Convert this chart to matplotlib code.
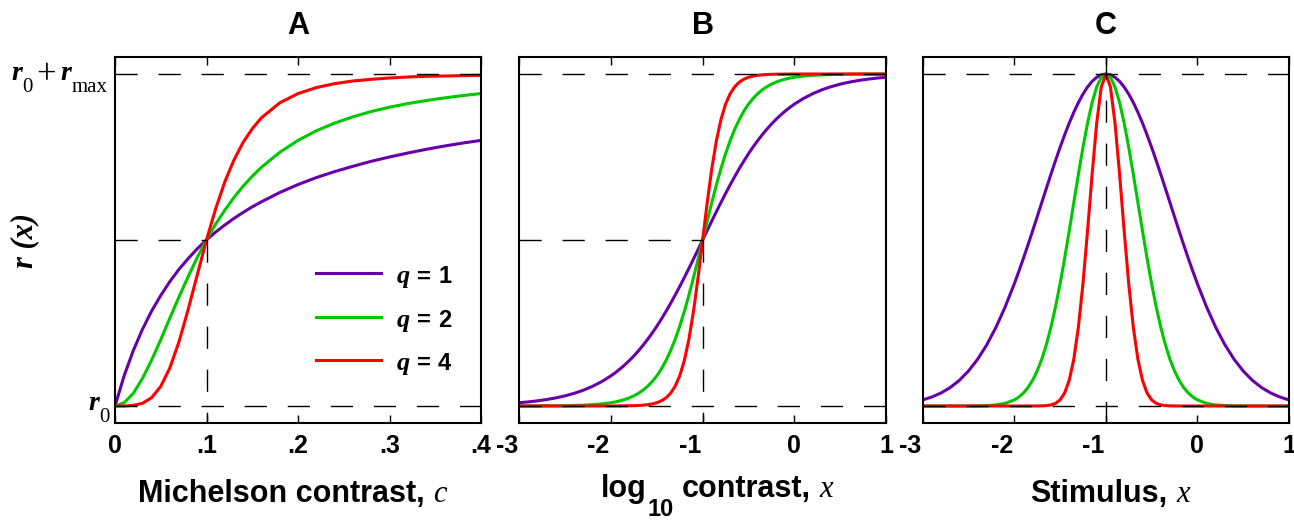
import matplotlib
matplotlib.use("Agg")
import matplotlib.pyplot as plt
from matplotlib import transforms
from matplotlib.lines import Line2D

plt.rcParams['lines.scale_dashes'] = False
plt.rcParams['font.family'] = ['Liberation Sans', 'DejaVu Sans']

W, H = 1294, 521
SANS = ['Liberation Sans', 'DejaVu Sans']
SERIF = ['Liberation Serif', 'DejaVu Serif']

# ---------------- data ----------------
panel_titles = ['A', 'B', 'C']
q_values = [1, 2, 4]
q_colors = ['#6600aa', '#00c800', '#ff0000']

# Panel A: Michelson contrast
contrast_c = [0, .01, .02, .03, .04, .05, .06, .07, .08, .09, .10, .11, .12, .13,
              .14, .15, .16, .18, .20, .22, .24, .26, .28, .30, .32, .34, .36, .38, .40]
resp_A_q1 = [0, .091, .167, .231, .286, .333, .375, .412, .444, .474, .5, .524, .545, .565,
             .583, .6, .615, .643, .667, .688, .706, .722, .737, .75, .762, .773, .783, .792, .8]
resp_A_q2 = [0, .010, .038, .083, .138, .2, .265, .329, .390, .448, .5, .548, .590, .628,
             .662, .692, .719, .764, .8, .829, .852, .871, .887, .9, .911, .920, .928, .935, .941]
resp_A_q4 = [0, .000, .002, .008, .025, .059, .115, .194, .291, .396, .5, .594, .675, .741,
             .794, .835, .868, .913, .941, .959, .971, .979, .984, .988, .991, .993, .994, .995, .996]

# Panels B and C share the sample positions
stim_x = [-3.0, -2.9, -2.8, -2.7, -2.6, -2.5, -2.4, -2.3, -2.2, -2.1,
          -2.0, -1.95, -1.9, -1.85, -1.8, -1.75, -1.7, -1.65, -1.6, -1.55,
          -1.5, -1.45, -1.4, -1.35, -1.3, -1.25, -1.2, -1.15, -1.1, -1.05,
          -1.0,
          -0.95, -0.9, -0.85, -0.8, -0.75, -0.7, -0.65, -0.6, -0.55, -0.5,
          -0.45, -0.4, -0.35, -0.3, -0.25, -0.2, -0.15, -0.1, -0.05, 0.0,
          0.1, 0.2, 0.3, 0.4, 0.5, 0.6, 0.7, 0.8, 0.9, 1.0]
resp_B_q1 = [.0099, .0124, .0156, .0196, .0245, .0306, .0383, .0477, .0594, .0736,
             .0909, .1009, .1118, .1238, .1368, .1510, .1663, .1829, .2008, .2198,
             .2402, .2619, .2847, .3088, .3339, .3599, .3869, .4145, .4427, .4713,
             .5,
             .5287, .5573, .5855, .6131, .6401, .6661, .6912, .7153, .7381, .7598,
             .7802, .7992, .8171, .8337, .8490, .8632, .8762, .8882, .8991, .9091,
             .9264, .9406, .9523, .9617, .9694, .9755, .9804, .9844, .9876, .9901]
resp_B_q2 = [.0001, .0002, .0003, .0004, .0006, .0010, .0016, .0025, .0040, .0063,
             .0099, .0124, .0156, .0196, .0245, .0306, .0383, .0477, .0594, .0736,
             .0909, .1118, .1368, .1663, .2008, .2402, .2847, .3339, .3869, .4427,
             .5,
             .5573, .6131, .6661, .7153, .7598, .7992, .8337, .8632, .8882, .9091,
             .9264, .9406, .9523, .9617, .9694, .9755, .9804, .9844, .9876, .9901,
             .9937, .9960, .9975, .9984, .9990, .9994, .9996, .9997, .9998, .9999]
resp_B_q4 = [0, 0, 0, 0, 0, 0, 0, 0, 0, 0,
             .0001, .0002, .0003, .0004, .0006, .0010, .0016, .0025, .0040, .0063,
             .0099, .0156, .0245, .0383, .0594, .0909, .1368, .2008, .2847, .3869,
             .5,
             .6131, .7153, .7992, .8632, .9091, .9406, .9617, .9755, .9844, .9901,
             .9937, .9960, .9975, .9984, .9990, .9994, .9996, .9997, .9998, .9999,
             1, 1, 1, 1, 1, 1, 1, 1, 1, 1]
resp_C_q1 = [.0183, .0271, .0392, .0556, .0773, .1054, .1409, .1845, .2369, .2982,
             .3679, .4056, .4449, .4855, .5273, .5698, .6126, .6554, .6977, .7390,
             .7788, .8167, .8521, .8847, .9139, .9394, .9608, .9778, .9900, .9975,
             1.0,
             .9975, .9900, .9778, .9608, .9394, .9139, .8847, .8521, .8167, .7788,
             .7390, .6977, .6554, .6126, .5698, .5273, .4855, .4449, .4056, .3679,
             .2982, .2369, .1845, .1409, .1054, .0773, .0556, .0392, .0271, .0183]
resp_C_q2 = [0, 0, 0, 0, 0, .0001, .0004, .0012, .0032, .0079,
             .0183, .0271, .0392, .0556, .0773, .1054, .1409, .1845, .2369, .2982,
             .3679, .4449, .5273, .6126, .6977, .7788, .8521, .9139, .9608, .9900,
             1.0,
             .9900, .9608, .9139, .8521, .7788, .6977, .6126, .5273, .4449, .3679,
             .2982, .2369, .1845, .1409, .1054, .0773, .0556, .0392, .0271, .0183,
             .0079, .0032, .0012, .0004, .0001, 0, 0, 0, 0, 0]
resp_C_q4 = [0, 0, 0, 0, 0, 0, 0, 0, 0, 0,
             0, 0, 0, 0, 0, .0001, .0004, .0012, .0032, .0079,
             .0183, .0392, .0773, .1409, .2369, .3679, .5273, .6977, .8521, .9608,
             1.0,
             .9608, .8521, .6977, .5273, .3679, .2369, .1409, .0773, .0392, .0183,
             .0079, .0032, .0012, .0004, .0001, 0, 0, 0, 0, 0,
             0, 0, 0, 0, 0, 0, 0, 0, 0, 0]

ticks_A = [0, .1, .2, .3, .4]
ticklabels_A = ['0', '.1', '.2', '.3', '.4']
ticks_BC = [-3, -2, -1, 0, 1]
ticklabels_BC = ['-3', '-2', '-1', '0', '1']
c50 = 0.1
x50 = -1.0
legend_labels = ['1', '2', '4']

# ---------------- figure ----------------
fig = plt.figure(figsize=(W / 100, H / 100), dpi=100)


def fx(x):
    return x / W


def fy(y):
    return 1 - y / H


def add_axes_px(l, r, t, b):
    return fig.add_axes([fx(l), fy(b), (r - l) / W, (b - t) / H])


axA = add_axes_px(115, 481, 57, 423)
axB = add_axes_px(519.3, 886, 57, 423)
axC = add_axes_px(922.7, 1289, 57, 423)
YLIM = (-0.0512, 1.0512)
DASH = dict(color='black', lw=1.0, ls=(0, (16, 15)), zorder=3, dash_capstyle='butt')

panels = [
    (axA, contrast_c, [resp_A_q1, resp_A_q2, resp_A_q4], (0, 0.4), ticks_A, ticklabels_A),
    (axB, stim_x, [resp_B_q1, resp_B_q2, resp_B_q4], (-3, 1), ticks_BC, ticklabels_BC),
    (axC, stim_x, [resp_C_q1, resp_C_q2, resp_C_q4], (-3, 1), ticks_BC, ticklabels_BC),
]

tick_font = dict(family=SANS, weight='bold', size=18)
for ax, xs, series, xlim, ticks, labels in panels:
    for ys, col in zip(series, q_colors):
        ax.plot(xs, ys, color=col, lw=2.2, zorder=2, solid_joinstyle='round')
    ax.set_xlim(*xlim)
    ax.set_ylim(*YLIM)
    for sp in ax.spines.values():
        sp.set_linewidth(1.5)
    ax.set_xticks(ticks)
    ax.set_yticks([])
    ax.tick_params(axis='x', direction='in', top=True, bottom=True, length=6, width=1.0,
                   labelbottom=False, labeltop=False)
    tr = transforms.blended_transform_factory(ax.transData, fig.transFigure)
    for v, lab in zip(ticks, labels):
        if lab.startswith('-'):
            off = transforms.ScaledTranslation(-1.5 / 100, 0, fig.dpi_scale_trans)
            ax.text(v, fy(453), lab, transform=tr + off, ha='right', va='baseline', **tick_font)
        else:
            ax.text(v, fy(453), lab, transform=tr, ha='center', va='baseline', **tick_font)
    ax.plot([xlim[0], xlim[1]], [1, 1], **DASH)
    ax.plot([xlim[0], xlim[1]], [0, 0], **DASH)

# half-maximum references
axA.plot([0, c50], [0.5, 0.5], **DASH)
axA.plot([c50, c50], [0.5, YLIM[0]], **DASH)
axB.plot([-3, x50], [0.5, 0.5], **DASH)
axB.plot([x50, x50], [0.5, YLIM[0]], **DASH)
axC.plot([x50, x50], [YLIM[1], YLIM[0]], **DASH)

# titles
for ax, t in zip([axA, axB, axC], panel_titles):
    bb = ax.get_position()
    fig.text(bb.x0 + bb.width / 2, fy(34), t, ha='center', va='baseline',
             family=SANS, weight='bold', size=22)

renderer = fig.canvas.get_renderer()


def rich_row(pieces, x, baseline, align='center'):
    objs = []
    total = 0
    for s, kw, dy, gap in pieces:
        t = fig.text(0, 0, s, ha='left', va='baseline', **kw)
        w = t.get_window_extent(renderer).width
        objs.append((t, dy, gap, w))
        total += w + gap
    cur = x - total / 2 if align == 'center' else x
    for t, dy, gap, w in objs:
        cur += gap
        t.set_position((fx(cur), fy(baseline + dy)))
        cur += w


SB22 = dict(family=SANS, weight='bold', size=22)
SI22 = dict(family=SERIF, style='italic', size=22)

rich_row([("Michelson contrast,", SB22, 0, 0), ("c", SI22, 0, 9)], 292.5, 502)
rich_row([("log", SB22, 0, 0), ("10", dict(family=SANS, weight='bold', size=17), 19, 1),
          ("contrast,", SB22, 0, 8), ("x", SI22, 0, 9)], 717, 497)
rich_row([("Stimulus,", SB22, 0, 0), ("x", SI22, 0, 9)], 1110, 502)

# y label
fig.text(fx(25), fy(240.5), "r (x)", rotation=90, ha='center', va='center',
         family=SERIF, style='italic', weight='bold', size=22)

# y-level labels
RBI = dict(family=SERIF, style='italic', weight='bold', size=20)
RSUB = dict(family=SERIF, size=15)
fig.text(fx(11.7), fy(80), "r", ha='left', va='baseline', **RBI)
fig.text(fx(22.7), fy(91.7), "0", ha='left', va='baseline', **RSUB)
fig.text(fx(46), fy(84.5), "+", ha='center', va='baseline', family=SERIF, size=25)
fig.text(fx(60.5), fy(80), "r", ha='left', va='baseline', **RBI)
fig.text(fx(71.5), fy(91.7), "max", ha='left', va='baseline', **RSUB)
fig.text(fx(88), fy(410), "r", ha='left', va='baseline', **RBI)
fig.text(fx(99), fy(421.7), "0", ha='left', va='baseline', **RSUB)

# legend (panel A)
for i, (lab, col) in enumerate(zip(legend_labels, q_colors)):
    yline = 273.3 + 43.3 * i
    fig.add_artist(Line2D([fx(316), fx(381)], [fy(yline), fy(yline)], color=col, lw=2.2))
    base = 283.3 + 43.3 * i
    fig.text(fx(397), fy(base), "q", ha='left', va='baseline',
             family=SERIF, style='italic', weight='bold', size=19)
    fig.text(fx(417), fy(base), "=", ha='left', va='baseline', family=SANS, weight='bold', size=17)
    fig.text(fx(438), fy(base), lab, ha='left', va='baseline', family=SANS, weight='bold', size=17)

fig.savefig("out.png", dpi=100)
